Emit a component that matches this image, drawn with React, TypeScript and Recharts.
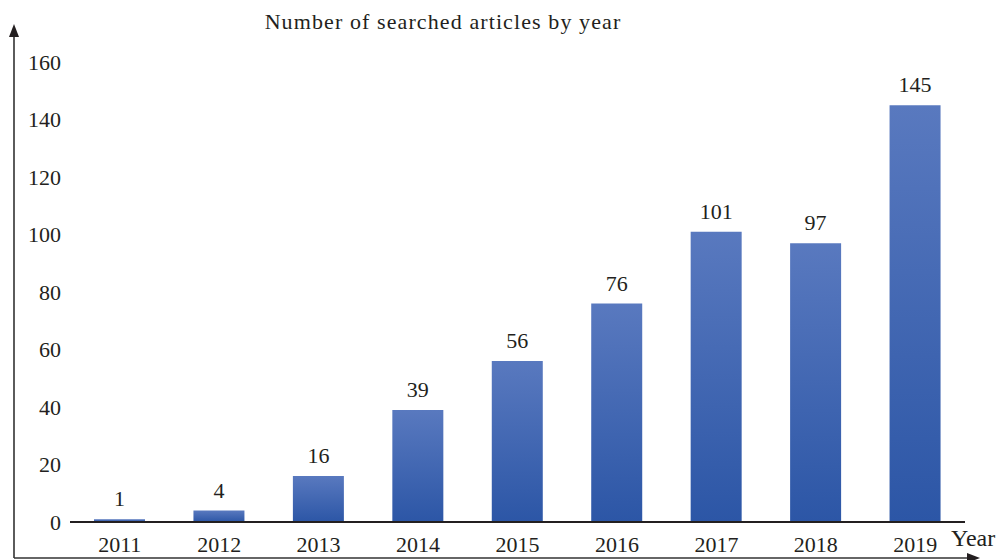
import React from "react";
import { BarChart, Bar, XAxis, YAxis, LabelList, Customized } from "recharts";

const years = ["2011", "2012", "2013", "2014", "2015", "2016", "2017", "2018", "2019"];
const articles = [1, 4, 16, 39, 56, 76, 101, 97, 145];
const yTicks = [0, 20, 40, 60, 80, 100, 120, 140, 160];

const data = years.map((year, i) => ({ year, count: articles[i] }));

const FONT = "'Liberation Serif', 'DejaVu Serif', serif";
const INK = "#231f20";

// frame with arrows, title and axis name
function Frame() {
  return (
    <g>
      <text
        x={443}
        y={29}
        textAnchor="middle"
        fontFamily={FONT}
        fontSize={22}
        letterSpacing={1.1}
        fill={INK}
      >
        Number of searched articles by year
      </text>
      <line x1={14} y1={34} x2={14} y2={558} stroke="#333" strokeWidth={1.6} />
      <polygon points="14,24 9,37 19,37" fill={INK} />
      <line x1={14} y1={558} x2={970} y2={558} stroke="#333" strokeWidth={1.6} />
      <polygon points="980,558 967,553 967,563" fill={INK} />
      <text x={951} y={546} fontFamily={FONT} fontSize={24} fill={INK}>
        Year
      </text>
    </g>
  );
}

export default function App() {
  return (
    <div style={{ position: "absolute", left: 0, top: 0 }}>
      <BarChart
        width={1000}
        height={560}
        data={data}
        margin={{ top: 62, right: 35, left: 0, bottom: 0 }}
        barCategoryGap="49%"
      >
        <defs>
          <linearGradient id="barGrad" x1="0" y1="0" x2="0" y2="1">
            <stop offset="0%" stopColor="#5979bf" />
            <stop offset="100%" stopColor="#2c56a6" />
          </linearGradient>
        </defs>
        <XAxis
          dataKey="year"
          tickLine={false}
          tickSize={0}
          tickMargin={14}
          axisLine={{ stroke: INK, strokeWidth: 2 }}
          tick={{ fill: INK, fontSize: 22, fontFamily: FONT }}
          height={38}
        />
        <YAxis
          domain={[0, 160]}
          ticks={yTicks}
          width={70}
          tickLine={false}
          axisLine={false}
          tickSize={0}
          tickMargin={9}
          tick={{ fill: INK, fontSize: 22, fontFamily: FONT }}
        />
        <Bar dataKey="count" fill="url(#barGrad)" barSize={51} isAnimationActive={false}>
          <LabelList
            dataKey="count"
            position="top"
            offset={13}
            fill={INK}
            fontSize={22}
            fontFamily={FONT}
          />
        </Bar>
        <Customized component={Frame} />
      </BarChart>
    </div>
  );
}
